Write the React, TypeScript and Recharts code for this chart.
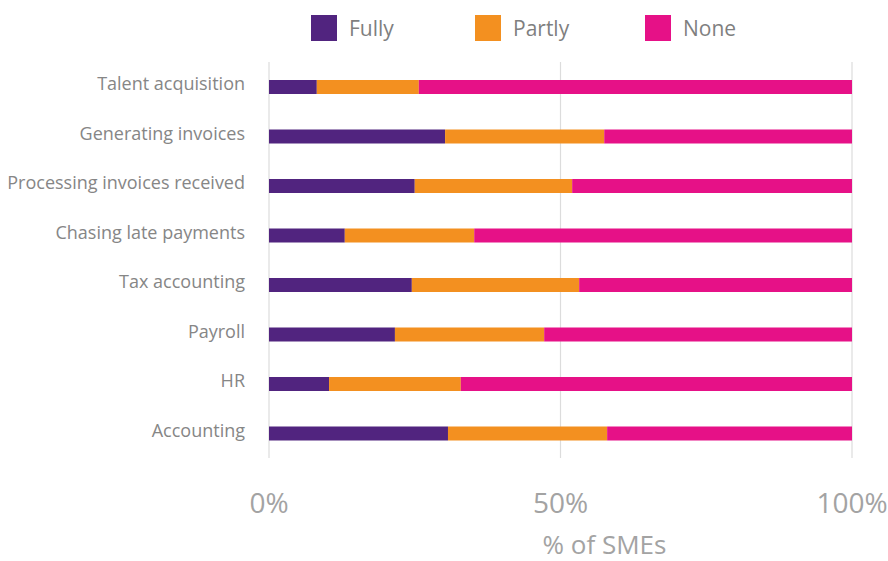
import React from 'react';
import { BarChart, Bar, XAxis, YAxis, CartesianGrid } from 'recharts';

const categories = [
  'Talent acquisition',
  'Generating invoices',
  'Processing invoices received',
  'Chasing late payments',
  'Tax accounting',
  'Payroll',
  'HR',
  'Accounting',
];

const fully = [8.2, 30.2, 25.0, 13.0, 24.5, 21.6, 10.3, 30.7];
const partly = [17.5, 27.3, 27.0, 22.2, 28.7, 25.6, 22.6, 27.3];
const none = [74.3, 42.5, 48.0, 64.8, 46.8, 52.8, 67.1, 42.0];

const seriesNames = ['Fully', 'Partly', 'None'];
const seriesColors = ['#51247f', '#f39020', '#e61187'];
const xTicks = [0, 50, 100];

const FONT = '"Open Sans", sans-serif';

const data = categories.map((name, i) => ({
  name,
  Fully: fully[i],
  Partly: partly[i],
  None: none[i],
}));

// legend item widths (square + text + gap)
const legendWidths = [164, 170, 120];

const App: React.FC = () => {
  return (
    <div style={{ position: 'absolute', left: 0, top: 0, width: 888, height: 561, background: '#fff', fontFamily: FONT }}>
      {/* legend */}
      <div style={{ position: 'absolute', left: 311, top: 14, display: 'flex' }}>
        {seriesNames.map((s, i) => (
          <div key={s} style={{ width: legendWidths[i], display: 'flex', alignItems: 'center' }}>
            <span style={{ width: 26, height: 26, background: seriesColors[i], display: 'inline-block' }}></span>
            <span style={{ marginLeft: 12, fontSize: 21, color: '#7f7f7f' }}>{s}</span>
          </div>
        ))}
      </div>

      <BarChart
        width={888}
        height={561}
        data={data}
        layout="vertical"
        margin={{ top: 62, right: 36, left: 0, bottom: 0 }}
        barSize={14}
      >
        <CartesianGrid horizontal={false} stroke="#dcdcdc" strokeWidth={1.2} />
        <XAxis
          type="number"
          domain={[0, 100]}
          ticks={xTicks}
          tickFormatter={(v) => `${v}%`}
          axisLine={false}
          tickLine={false}
          tickSize={0}
          tickMargin={35}
          height={103}
          interval={0}
          tick={{ fill: '#a3a3a3', fontSize: 28, fontFamily: FONT }}
          label={{ value: '% of SMEs', position: 'insideBottom', offset: 7, dx: 44, fill: '#a3a3a3', fontSize: 26, fontFamily: FONT }}
        />
        <YAxis
          type="category"
          dataKey="name"
          width={269}
          axisLine={false}
          tickLine={false}
          tickSize={0}
          tickMargin={24}
          interval={0}
          tick={{ fill: '#868686', fontSize: 18, fontFamily: FONT, dy: -3 }}
        />
        {seriesNames.map((s, i) => (
          <Bar key={s} dataKey={s} stackId="a" fill={seriesColors[i]} isAnimationActive={false} />
        ))}
      </BarChart>
    </div>
  );
};

export default App;
